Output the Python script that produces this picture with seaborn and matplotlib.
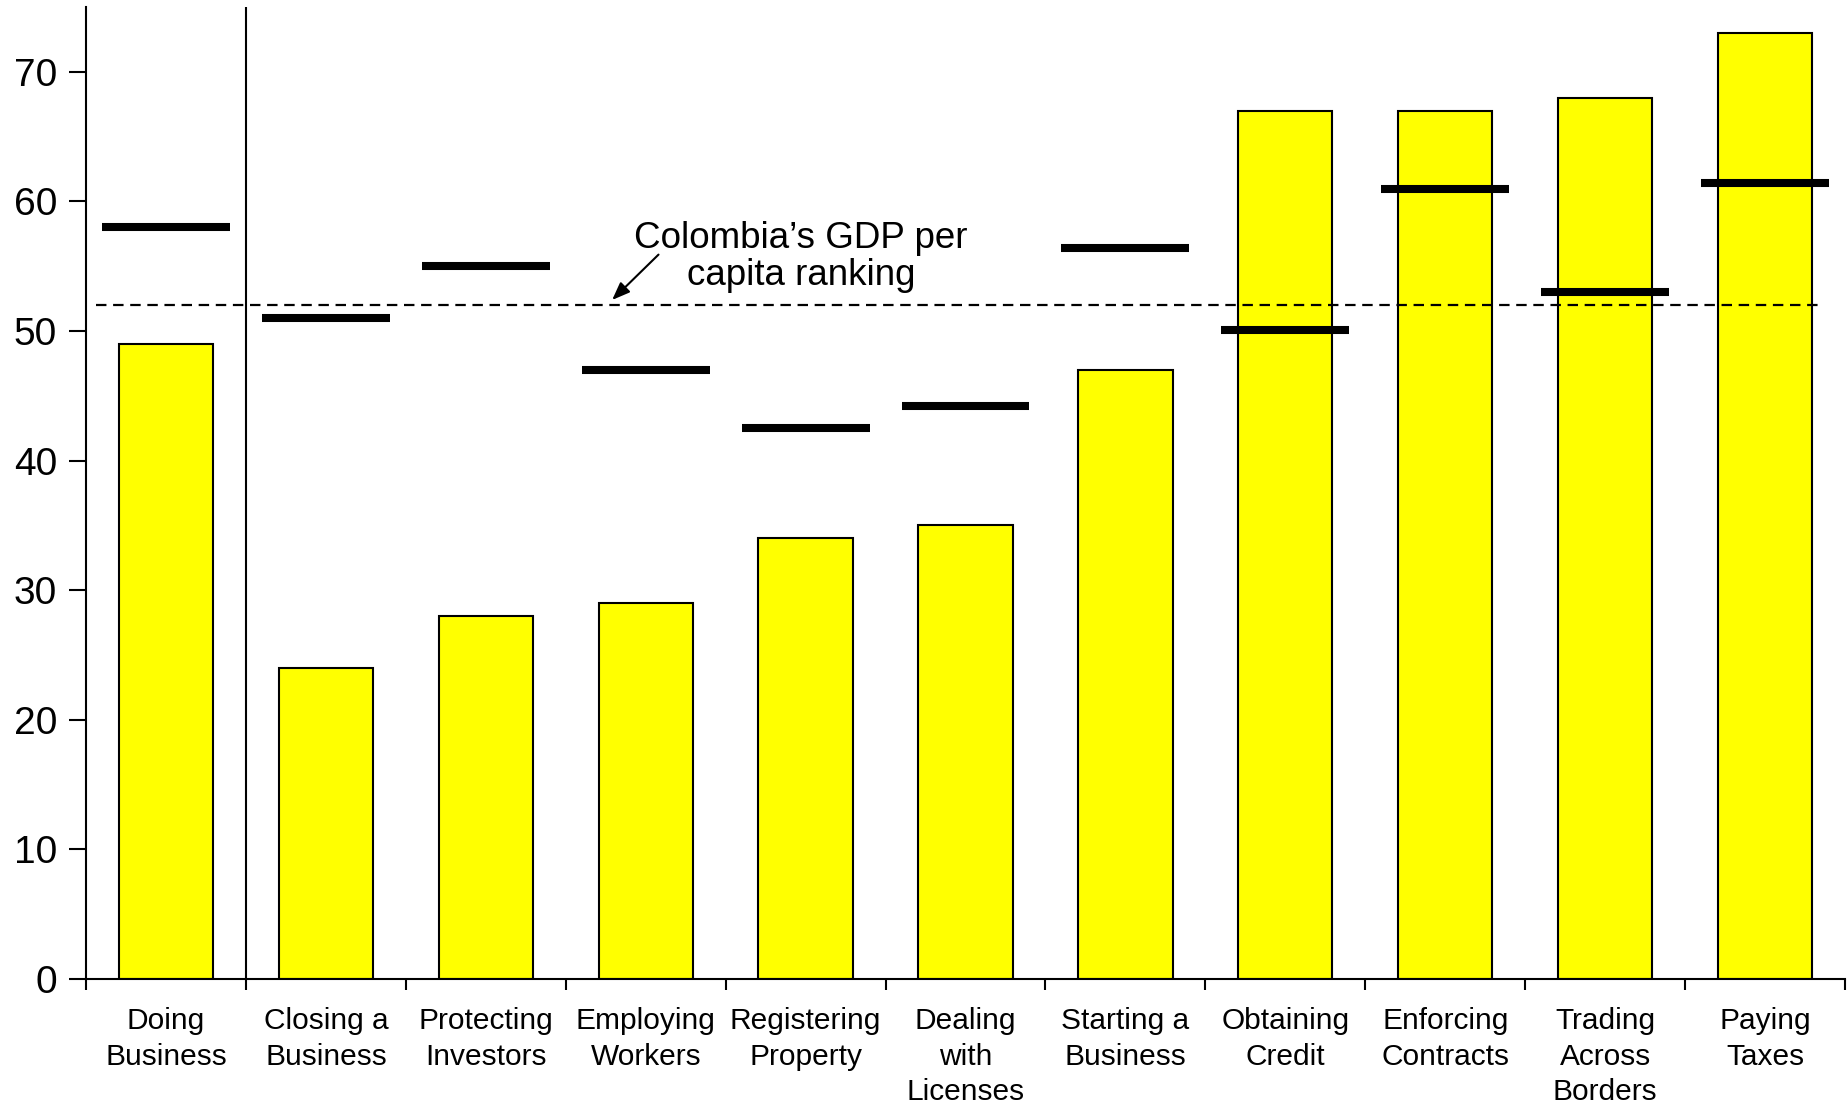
import matplotlib
matplotlib.use("Agg")
import matplotlib.pyplot as plt
import seaborn as sns
import pandas as pd
import numpy as np

# Doing Business indicators: Colombia's rank (bars) vs. comparator rank (black markers)
categories = [
    "Doing\nBusiness", "Closing a\nBusiness", "Protecting\nInvestors", "Employing\nWorkers",
    "Registering\nProperty", "Dealing\nwith\nLicenses", "Starting a\nBusiness",
    "Obtaining\nCredit", "Enforcing\nContracts", "Trading\nAcross\nBorders", "Paying\nTaxes",
]
bar_values = [49, 24, 28, 29, 34, 35, 47, 67, 67, 68, 73]
marker_values = [58, 51, 55, 47, 42.5, 44.2, 56.4, 50.1, 61, 53, 61.4]
gdp_rank = 52
y_ticks = [0, 10, 20, 30, 40, 50, 60, 70]

sns.set_theme(style="white")
plt.rcParams["font.family"] = ["Liberation Sans", "DejaVu Sans"]
plt.rcParams["text.color"] = "black"
plt.rcParams["xtick.color"] = "black"
plt.rcParams["ytick.color"] = "black"

df = pd.DataFrame({"category": categories, "rank": bar_values, "marker": marker_values})

fig = plt.figure(figsize=(18.47, 11.07), dpi=100)
ax = fig.add_axes([0.0466, 0.1156, 0.9523, 0.878])

sns.barplot(data=df, x="category", y="rank", color="#FFFF00", saturation=1,
            edgecolor="black", linewidth=1.5, width=0.59, ax=ax)

# comparator rank markers
xpos = np.arange(len(categories))
ax.hlines(df["marker"], xpos - 0.4, xpos + 0.4, color="black", linewidth=5.8, zorder=4)

# GDP per capita reference line
ax.plot([-0.44, 10.36], [gdp_rank, gdp_rank], color="black", linewidth=1.6,
        linestyle=(0, (4.7, 3.0)), zorder=3)

# separator between overall ranking and sub-indicators
ax.axvline(0.5, color="black", linewidth=1.5, zorder=3)

ax.text(3.97, 55.7, "Colombia\u2019s GDP per\ncapita ranking", ha="center", va="center",
        fontsize=26.5, linespacing=1.08, color="black")
ax.annotate("", xy=(2.79, 52.4), xytext=(3.08, 55.9),
            arrowprops=dict(arrowstyle="-|>,head_length=0.9,head_width=0.35",
                            color="black", lw=1.5, shrinkA=0, shrinkB=0))

ax.set_xlim(-0.5, 10.5)
ax.set_ylim(0, 75)
ax.set_yticks(y_ticks)
ax.set_yticklabels([str(t) for t in y_ticks], fontsize=28, color="black")

# category labels centered, ticks on category boundaries
ax.set_xticks(xpos)
ax.set_xticklabels(categories, fontsize=21.5, linespacing=1.35, color="black")
ax.tick_params(axis="x", which="major", length=0, pad=20)
ax.set_xticks(np.arange(-0.5, len(categories)), minor=True)
ax.tick_params(axis="x", which="minor", length=8, width=1.5, color="black", direction="out",
               bottom=True)
ax.tick_params(axis="y", length=12, width=1.5, color="black", direction="out", pad=9, left=True)

ax.set_xlabel("")
ax.set_ylabel("")
for side in ["top", "right"]:
    ax.spines[side].set_visible(False)
for side in ["left", "bottom"]:
    ax.spines[side].set_color("black")
    ax.spines[side].set_linewidth(1.5)

fig.savefig("out.png", dpi=100)
